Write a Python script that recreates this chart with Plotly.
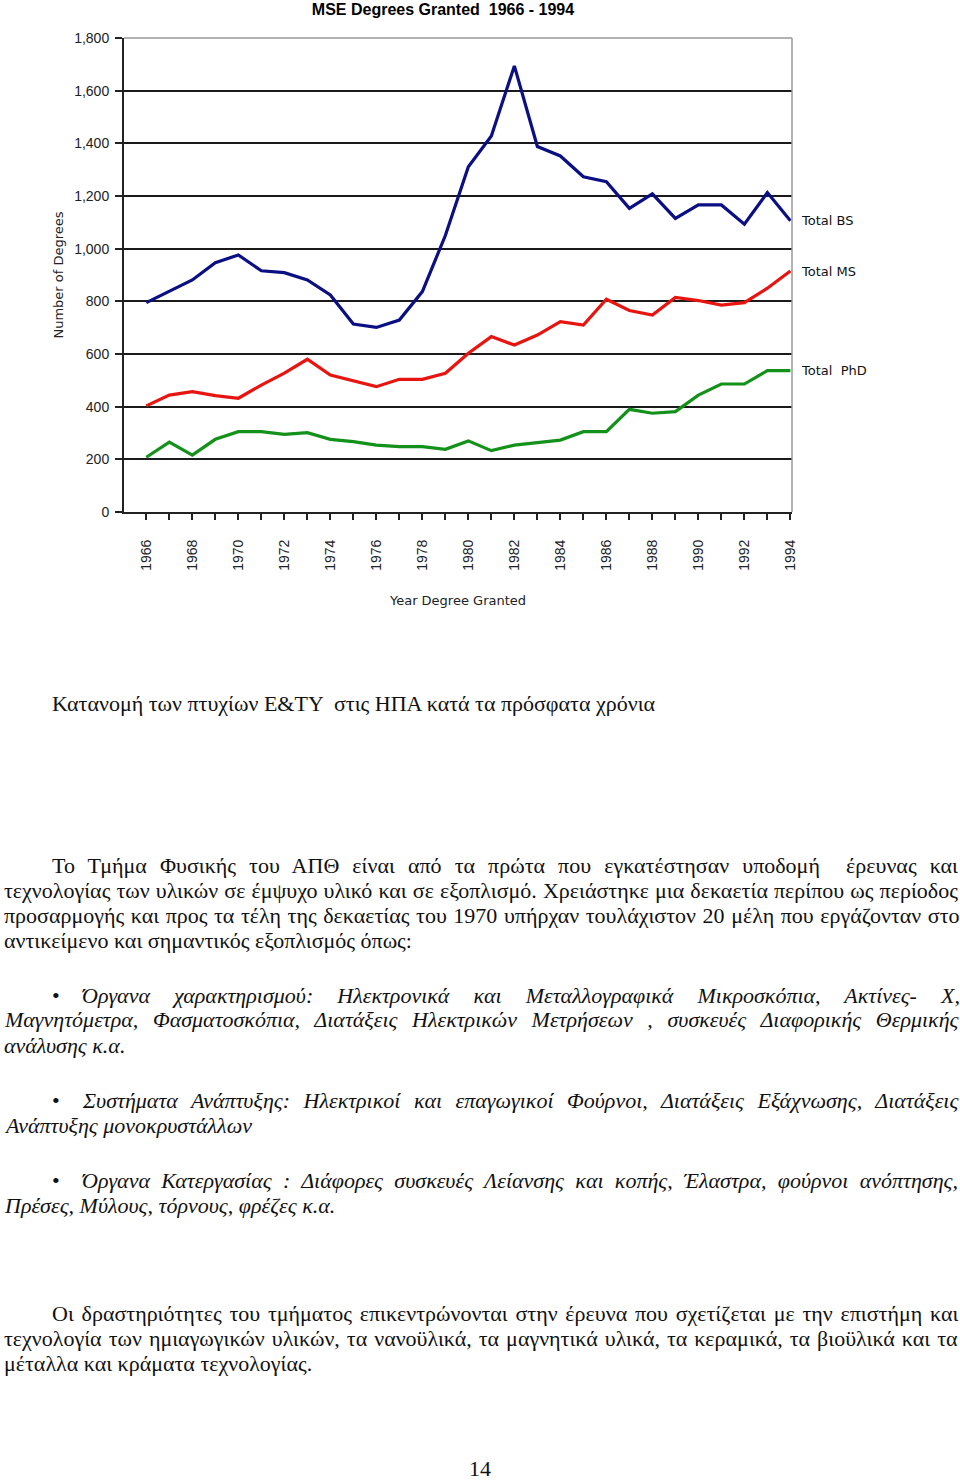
import plotly.graph_objects as go

years = list(range(1966, 1995))
total_bs = [795, 837, 881, 947, 976, 916, 909, 881, 824, 714, 701, 729, 837, 1050,
            1311, 1428, 1694, 1388, 1352, 1273, 1254, 1153, 1208, 1115, 1166, 1166,
            1093, 1213, 1106]
total_ms = [403, 444, 457, 442, 432, 482, 527, 580, 520, 499, 476, 504, 504, 527,
            603, 666, 634, 672, 723, 710, 808, 765, 748, 815, 803, 786, 795, 850, 915]
total_phd = [208, 265, 216, 276, 305, 305, 295, 301, 276, 267, 254, 248, 248, 238,
             270, 233, 254, 263, 273, 305, 305, 390, 375, 381, 444, 486, 486, 537, 537]
series_names = ["Total BS", "Total MS", "Total  PhD"]
series_colors = ["#0a0f84", "#e8140f", "#13911a"]

caption = "Κατανομή των πτυχίων Ε&ΤΥ  στις ΗΠΑ κατά τα πρόσφατα χρόνια"
para1 = [
    "Το Τμήμα Φυσικής του ΑΠΘ είναι από τα πρώτα που εγκατέστησαν υποδομή  έρευνας και",
    "τεχνολογίας των υλικών σε έμψυχο υλικό και σε εξοπλισμό. Χρειάστηκε μια δεκαετία περίπου ως περίοδος",
    "προσαρμογής και προς τα τέλη της δεκαετίας του 1970 υπήρχαν τουλάχιστον 20 μέλη που εργάζονταν στο",
    "αντικείμενο και σημαντικός εξοπλισμός όπως:",
]
bullet1 = [
    "Όργανα χαρακτηρισμού: Ηλεκτρονικά και Μεταλλογραφικά Μικροσκόπια, Ακτίνες- Χ,",
    "Μαγνητόμετρα, Φασματοσκόπια, Διατάξεις Ηλεκτρικών Μετρήσεων , συσκευές Διαφορικής Θερμικής",
    "ανάλυσης κ.α.",
]
bullet2 = [
    "Συστήματα Ανάπτυξης: Ηλεκτρικοί και επαγωγικοί Φούρνοι, Διατάξεις Εξάχνωσης, Διατάξεις",
    "Ανάπτυξης μονοκρυστάλλων",
]
bullet3 = [
    "Όργανα Κατεργασίας : Διάφορες συσκευές Λείανσης και κοπής, Έλαστρα, φούρνοι ανόπτησης,",
    "Πρέσες, Μύλους, τόρνους, φρέζες κ.α.",
]
para2 = [
    "Οι δραστηριότητες του τμήματος επικεντρώνονται στην έρευνα που σχετίζεται με την επιστήμη και",
    "τεχνολογία των ημιαγωγικών υλικών, τα νανοϋλικά, τα μαγνητικά υλικά, τα κεραμικά, τα βιοϋλικά και τα",
    "μέταλλα και κράματα τεχνολογίας.",
]
page_number = "14"

W, H = 960, 1482
L, R, T, B = 124, 168, 38, 970
PW, PH = W - L - R, H - T - B

fig = go.Figure()
for name, vals, col in zip(series_names, [total_bs, total_ms, total_phd], series_colors):
    fig.add_trace(go.Scatter(x=years, y=vals, mode="lines", name=name,
                             line=dict(color=col, width=3.2), showlegend=False))
    fig.add_annotation(x=years[-1], y=vals[-1], xref="x", yref="y", text=name,
                       showarrow=False, xanchor="left", yanchor="middle", xshift=9,
                       font=dict(family="DejaVu Sans", size=13, color="#111"))

fig.update_layout(
    width=W, height=H,
    margin=dict(l=L, r=R, t=T, b=B, pad=0),
    paper_bgcolor="white", plot_bgcolor="white",
    title=dict(text="<b>MSE Degrees Granted  1966 - 1994</b>", x=(443 - L) / PW,
               xref="paper", xanchor="center", y=1 - 9 / H, yanchor="middle",
               font=dict(family="Liberation Sans", size=16, color="#000")),
    xaxis=dict(range=[1965.03, 1994.07], tickmode="linear", tick0=1966, dtick=2,
               tickangle=-90, ticks="outside", ticklen=6, tickwidth=1.5, tickcolor="#222",
               ticklabelstandoff=14, automargin=True,
               showgrid=False, zeroline=False, showline=True, linecolor="#222", linewidth=2,
               tickfont=dict(family="Liberation Sans", size=14, color="#222"),
               minor=dict(tickmode="linear", tick0=1966, dtick=1, ticks="outside",
                          ticklen=6, tickwidth=1.5, tickcolor="#222", showgrid=False),
               title=dict(text="Year Degree Granted", standoff=26,
                          font=dict(family="DejaVu Sans", size=13, color="#222"))),
    yaxis=dict(range=[0, 1800], tickmode="linear", tick0=0, dtick=200, tickformat=",d",
               ticks="outside", ticklen=7, tickwidth=1.5, tickcolor="#222",
               ticklabelstandoff=3, automargin=True,
               showgrid=True, gridcolor="#1a1a1a", gridwidth=1.5, zeroline=False,
               showline=True, linecolor="#222", linewidth=2,
               tickfont=dict(family="Liberation Sans", size=14, color="#222"),
               title=dict(text="Number of Degrees", standoff=8,
                          font=dict(family="DejaVu Sans", size=13, color="#222"))),
)

# light gray frame at top and right of plot area
fig.add_shape(type="line", xref="paper", yref="paper", x0=0, x1=1, y0=1, y1=1,
              line=dict(color="#999", width=1.5), layer="above")
fig.add_shape(type="line", xref="paper", yref="paper", x0=1, x1=1, y0=0, y1=1,
              line=dict(color="#999", width=1.5), layer="above")

FS = 22
TXT = dict(family="Liberation Serif", size=FS, color="#111")
TXTI = dict(family="Liberation Serif", size=FS, color="#111", style="italic")
RIGHT_EDGE = 958


def px_x(x):
    return (x - L) / PW


def px_y(y):
    return (H - B - y) / PH


def add_line(text, x, y, font, natural_end=None):
    # natural_end: right edge (px) of the line when set without extra word spacing;
    # used to stretch justified lines to the right text edge.
    if natural_end is not None:
        n_sp = text.count(" ")
        ws = (RIGHT_EDGE - natural_end) / max(n_sp, 1)
        text = '<span style="word-spacing:%.2fpx">%s</span>' % (ws, text)
    fig.add_annotation(xref="paper", yref="paper", x=px_x(x), y=px_y(y),
                       text=text, showarrow=False, xanchor="left", yanchor="middle",
                       font=font, align="left")


add_line(caption, 50, 703, TXT)
para1_ends = [852, 950, 942, None]
for i, t in enumerate(para1):
    add_line(t, 50 if i == 0 else 2, 865 + 25 * i, TXT, para1_ends[i])
bullet_ends = [[828, 885, None], [894, None], [900, None]]
for block, y0, ends in zip([bullet1, bullet2, bullet3], [995, 1100, 1180], bullet_ends):
    add_line("•", 50, y0, TXT)
    for i, t in enumerate(block):
        add_line(t, 80 if i == 0 else 2, y0 + 25 * i, TXTI, ends[i])
para2_ends = [931, 937, None]
for i, t in enumerate(para2):
    add_line(t, 50 if i == 0 else 2, 1313 + 25 * i, TXT, para2_ends[i])
fig.add_annotation(xref="paper", yref="paper", x=px_x(480), y=px_y(1468),
                   text=page_number, showarrow=False, xanchor="center", yanchor="middle",
                   font=TXT)

fig.write_html("out.html", post_script="document.body.style.margin='0';",
               config={"displayModeBar": False})
